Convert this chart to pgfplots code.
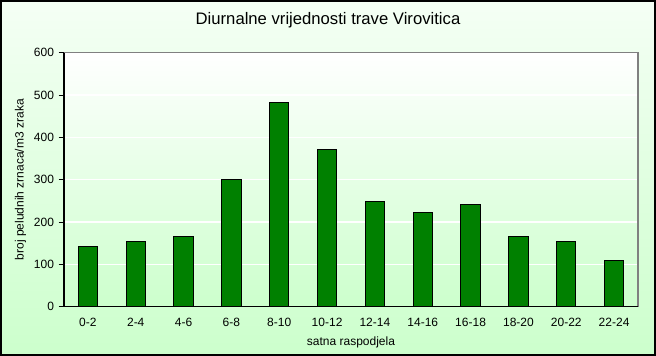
\documentclass[border=0pt]{standalone}
\usepackage{pgfplots}
\pgfplotsset{compat=1.18}
\usepackage{fontspec}
\setmainfont{Liberation Sans}
\definecolor{bgtop}{HTML}{FFFFFF}
\definecolor{bgbot}{HTML}{CCFFCC}
\definecolor{bargreen}{HTML}{008000}
\begin{document}
\begin{tikzpicture}[x=1pt,y=1pt]
\shade[top color=bgtop!80!bgbot, bottom color=bgbot] (0,0) rectangle (492,267);
\draw[black, line width=1.2pt] (0.6,0.6) rectangle (491.4,266.4);
\node[font=\fontsize{12.5}{14}\selectfont] at (246,251.5) {Diurnalne vrijednosti trave Virovitica};
\begin{axis}[
  at={(48pt,37pt)}, anchor=south west,
  scale only axis, width=430.5pt, height=190.5pt,
  xmin=-0.5, xmax=11.5, ymin=0, ymax=600,
  ytick={0,100,...,600},
  xtick={0,...,11},
  xticklabels={0-2,2-4,4-6,6-8,8-10,10-12,12-14,14-16,16-18,18-20,20-22,22-24},
  extra x ticks={-0.5,0.5,...,11.5},
  extra x tick labels={},
  extra x tick style={major tick length=4pt, tick style={black, line width=0.6pt}, tick align=outside},
  major x tick style={draw=none},
  xtick pos=bottom, ytick pos=left,
  ytick style={black, line width=0.6pt},
  y tick label style={font=\fontsize{9}{10}\selectfont},
  x tick label style={font=\fontsize{9}{10}\selectfont, yshift=-1pt},
  /pgf/number format/assume math mode=true,
  tick align=outside, major tick length=4pt,
  ymajorgrids, grid style={white, line width=0.8pt},
  axis background/.style={shade, top color=white, bottom color=bgbot},
  axis line style={draw=none},
  xlabel={satna raspodjela}, xlabel style={font=\fontsize{9}{10}\selectfont, yshift=7pt},
  ylabel={broj peludnih zrnaca/m3 zraka}, ylabel style={font=\fontsize{9}{10}\selectfont, yshift=-1pt},
  clip=false,
]
\draw[gray, line width=0.8pt] (axis cs:-0.5,600) -- (axis cs:11.5,600) -- (axis cs:11.5,0);
\draw[black, line width=0.8pt] (axis cs:-0.5,600) -- (axis cs:-0.5,0) -- (axis cs:11.5,0);
\addplot[ybar, bar width=19.3*0.75pt, fill=bargreen, draw=black, line width=0.7pt] coordinates {
(0,142) (1,153) (2,165) (3,301) (4,483) (5,372) (6,249) (7,223) (8,242) (9,166) (10,155) (11,110)
};
\end{axis}
\end{tikzpicture}
\end{document}
